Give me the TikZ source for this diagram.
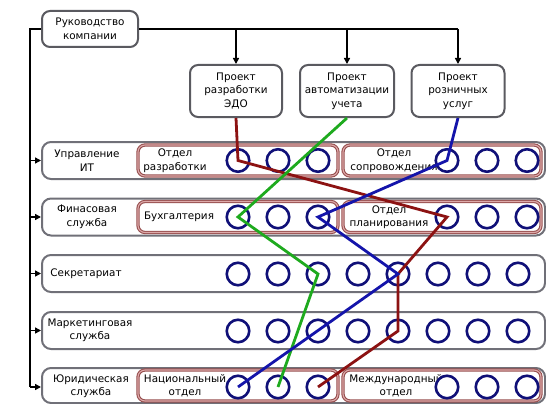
\documentclass[tikz,border=0pt]{standalone}
\usepackage{fontspec}
\setmainfont{DejaVu Sans}
\usetikzlibrary{arrows.meta}
\definecolor{rowgray}{RGB}{112,112,120}
\definecolor{boxgray}{RGB}{90,90,96}
\definecolor{subred}{RGB}{150,78,78}
\definecolor{subpink}{RGB}{222,170,170}
\definecolor{circblue}{RGB}{16,16,120}
\definecolor{lred}{RGB}{140,18,18}
\definecolor{lgreen}{RGB}{30,170,30}
\definecolor{lblue}{RGB}{20,20,170}
\begin{document}
\begin{tikzpicture}[x=1pt,y=-1pt,
  font=\fontsize{10.4}{13.5}\selectfont,
  box/.style={draw=boxgray, line width=2pt, rounded corners=8pt, fill=white, align=center, inner sep=0pt},
  rowbox/.style={draw=rowgray, line width=2pt, rounded corners=9pt, minimum width=503pt, minimum height=37pt, inner sep=0pt},
  subbox/.style={draw=subred, double=subpink, double distance=1.1pt, line width=1.1pt, rounded corners=7pt, minimum height=31pt, inner sep=0pt},
  ring/.style={circle, draw=circblue, line width=2.6pt, fill=white, minimum size=22.5pt, inner sep=0pt},
  lbl/.style={align=center, inner sep=0pt},
  conn/.style={line width=1.7pt},
  arr/.style={line width=1.7pt, -{Triangle[length=6pt,width=6pt]}},
  trace/.style={line width=2.8pt}]
\useasboundingbox (0,0) rectangle (546,404);

% top and projects
\node[box, minimum width=96pt, minimum height=36pt] (top) at (90,29) {Руководство\\компании};
\node[box, minimum width=92pt, minimum height=52pt] (p1) at (236,91) {Проект\\разработки\\ЭДО};
\node[box, minimum width=94pt, minimum height=52pt] (p2) at (347,91) {Проект\\автоматизации\\учета};
\node[box, minimum width=93pt, minimum height=52pt] (p3) at (458,91) {Проект\\розничных\\услуг};

\coordinate (tr) at (458,29);
\draw[conn] (top.east) -- (tr);
\draw[arr] (top.east -| p1.north) -- (p1.north);
\draw[arr] (top.east -| p2.north) -- (p2.north);
\draw[arr] (tr) -- (p3.north);

% rows
\node[rowbox] (r1) at (293.5,160.5) {};
\node[rowbox] (r2) at (293.5,217) {};
\node[rowbox] (r3) at (293.5,273.5) {};
\node[rowbox] (r4) at (293.5,330.5) {};
\node[rowbox, minimum height=35pt] (r5) at (293.5,385.5) {};

% sub boxes
\node[subbox, minimum width=200pt] (s1a) at (238,160.5) {};
\node[subbox, minimum width=198pt] (s1b) at (442,160.5) {};
\node[subbox, minimum width=200pt] (s2a) at (238,217) {};
\node[subbox, minimum width=198pt] (s2b) at (442,217) {};
\node[subbox, minimum width=200pt] (s5a) at (238,385.5) {};
\node[subbox, minimum width=198pt] (s5b) at (442,385.5) {};

% row labels
\node[lbl] (l1) at (87,160.5) {Управление\\ИТ};
\node[lbl] (l2) at (87,217) {Финасовая\\служба};
\node[lbl] (l3) at (86,274) {Секретариат};
\node[lbl] (l4) at (90,330.5) {Маркетинговая\\служба};
\node[lbl] (l5) at (91,386) {Юридическая\\служба};

% sub box labels
\node[lbl] (t1a) at (175,160.5) {Отдел\\разработки};
\node[lbl] (t1b) at (394,160.5) {Отдел\\сопровождения};
\node[lbl] (t2a) at (179,217) {Бухгалтерия};
\node[lbl] (t2b) at (389,217) {Отдел\\планирования};
\node[lbl] (t5a) at (185,386) {Национальный\\отдел};
\node[lbl] (t5b) at (396,386) {Международный\\отдел};

% circles
\foreach \r/\y in {1/160.5,2/217,5/387}
  \foreach \i/\x in {1/238,2/278,3/318,4/447,5/487,6/527}
    \node[ring] (c\r-\i) at (\x,\y) {};
\foreach \r/\y in {3/274,4/331}
  \foreach \i/\x in {1/238,2/278,3/318,4/358,5/398,6/438,7/478,8/518}
    \node[ring] (c\r-\i) at (\x,\y) {};

% project traces
\draw[trace, lred] (p1.south) -- (c1-1.center) -- (c2-4.center) -- (c3-5.center) -- (c4-5.center) -- (c5-3.center);
\draw[trace, lgreen] (p2.south) -- (c2-1.center) -- (c3-3.center) -- (c5-2.center);
\draw[trace, lblue] (p3.south) -- (c1-4.center) -- (c2-3.center) -- (c3-5.center) -- (c5-1.center);

% left trunk
\coordinate (tl) at (30,29);
\coordinate (bl) at (30,387);
\draw[conn] (top.west) -- (tl) -- (bl);
\draw[arr] (tl |- r1.west) -- (r1.west);
\draw[arr] (tl |- r2.west) -- (r2.west);
\draw[arr] (tl |- r3.west) -- (r3.west);
\draw[arr] (tl |- r4.west) -- (r4.west);
\draw[arr] (bl) -- (bl -| r5.west);
\end{tikzpicture}
\end{document}
